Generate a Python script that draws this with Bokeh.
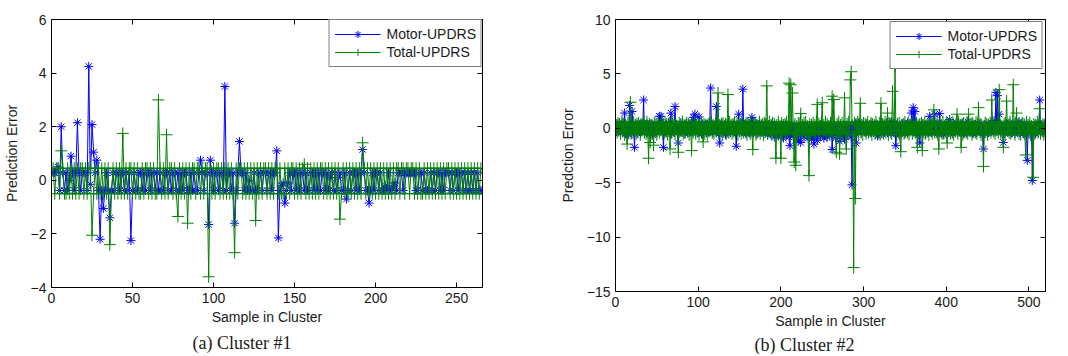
from bokeh.plotting import figure
from bokeh.models import Range1d, LinearAxis, FixedTicker, Legend, LegendItem, Title, Spacer
from bokeh.layouts import row, column
from bokeh.embed import file_html
from bokeh.resources import INLINE

# ---------------- data ----------------
motor1 = [
    .28, .28, .35, .5, -.38, 2.0, .28, -.38, .28, -.38, 0, .9, .28, -.38, .28, 2.15, .28, -.38, .28, .28,
    .28, -.38, 4.25, -.15, 2.08, 1.05, .28, .75, -.38, -2.2, -.38, -1.05, -.38, .28, -.38, -1.4, -.38, .28, -.38, .28,
    .28, -.38, .28, .28, -.38, .28, -.38, .28, -2.25, -.38, .28, -.38, -.38, .28, .28, -.38, .28, -.38, .28, .28,
    -.38, .28, .28, -.38, .28, -.38, .28, -.38, -.38, .28, .28, -.38, .28, -.38, .28, .28, -.38, .28, -.38, .28,
    -.38, .28, .28, -.38, -.38, .28, -.38, .28, -.38, -.38, .28, .75, .28, -.38, .28, .28, -1.65, .75, .28, -.38,
    .28, .28, -.38, .28, .28, -.38, 3.5, -.38, .28, .28, -.38, .28, -1.6, -.38, .28, 1.45, .28, .28, -.38, .28,
    -.38, 0, -.38, -.38, .28, -.38, -.38, .28, .28, -.38, .28, .28, -.38, .28, .28, -.38, .28, .28, 1.1, -2.15,
    -.38, -.2, -.1, -.85, -.38, -.1, .28, -.38, .28, .28, -.38, .28, -.38, .28, .28, -.38, .28, -.38, -.38, .28,
    .28, -.38, .28, -.38, .28, -.38, .28, .28, -.38, .28, -.38, .1, .28, -.38, .28, -.38, .1, .28, -.38, -.38,
    .28, -.7, -.38, .28, -.38, .28, .28, -.38, .28, -.38, .28, 1.15, .28, -.38, -.38, -.85, -.38, .28, -.38, .28,
    .28, -.38, .28, -.38, -.38, -.2, -.38, .28, -.38, -.38, -.2, -.1, -.38, .28, .28, .28, -.38, .28, .28, .28,
    .28, .28, .28, .28, -.38, -.38, .28, .28, -.38, .28, -.38, -.38, -.38, .28, -.38, .28, -.38, .28, .28, -.38,
    .28, -.38, .28, .28, .28, -.38, .28, -.38, .28, .28, -.38, .28, .28, -.38, .28, -.38, .28, -.38, .28, -.38,
    .28, -.38, .28, -.38, -.38,
]
total1 = [
    .45, -.5, .45, .45, -.5, 1.1, .45, -.5, -.5, .45, -.5, .45, -.5, .45, -.5, .45, -.5, .45, .45, -.5,
    .45, -.5, .45, .45, -2.05, -.5, .45, -.5, .45, -.5, .45, -.5, .45, -.5, .45, -2.4, -.5, .45, -.5, .45,
    -.5, .45, -.5, 1.75, -.5, .45, -.5, .45, .45, -.5, .45, -.5, .45, -.5, -.5, .45, -.5, .45, .45, -.5,
    .45, -.5, .45, -.5, -.5, 3.0, .45, -.5, .45, -.5, 1.7, -.5, .45, .45, -.5, .45, -.5, -1.35, .45, -.5,
    .45, -.5, .45, -1.6, .45, -.5, .45, .45, -.5, .45, .45, -.5, .45, -.5, .45, .45, -3.6, .45, -.5, .45,
    -.5, .45, .45, -.5, .45, -.5, .45, -.5, .45, -.5, .45, -.5, -2.7, .45, -.5, .45, .45, -.5, .45, -.5,
    .45, -.5, .45, -.5, .45, -1.5, .45, -.5, .45, -.5, .45, .45, -.5, .45, -.5, .45, -.5, .45, .45, -.5,
    .45, -.5, -.5, .45, -.5, .45, -.5, .45, .45, -.5, .45, -.5, .45, -.5, .45, .6, -.5, .45, -.5, .45,
    -.5, .45, -.5, .45, -.5, .45, .45, -.5, .45, -.5, .45, -.5, .45, -.5, .45, -.5, .45, -1.45, -.5, .45,
    -.5, .45, -.5, .45, -.5, .45, -.5, .45, -.5, .45, -.5, 1.4, .45, -.5, .45, -.5, .45, -.5, .45, -.5,
    .45, -.5, .45, -.5, .45, -.5, .45, -.5, .45, -.5, .45, -.5, .45, .45, -.5, .45, .45, -.5, .45, .45,
    -.5, .45, .45, -.5, .45, -.5, .45, -.5, -.5, .45, -.5, .45, -.5, .45, -.5, .45, -.5, .45, -.5, .45,
    -.5, .45, -.5, .45, .45, -.5, .45, -.5, .45, -.5, .45, -.5, .45, -.5, .45, -.5, .45, -.5, .45, -.5,
    .45, -.5, .45, -.5, .45,
]
motor2 = [
    -.3, .2, .4, -.2, .3, -.4, .1, .5, -.3, .2, 1.4, -.5, .3, -.2, .1, -.6, 2.1, .3, -.4, 1.55,
    .2, -.3, -1.75, .4, -.1, .3, -.5, .2, -.2, .4, -.3, .1, .3, 2.6, -.4, .2, -.3, .4, -.2, .1,
    -.5, .3, -.2, .4, -.6, .2, .1, -.3, .3, -.4, .2, -.1, 1.1, .3, 1.1, -.2, .4, -1.75, .2, -.3,
    .3, -.4, .1, .5, -.2, .3, 1.4, -.5, .2, -.3, .4, 2.0, -.2, .1, -.4, -1.35, .3, -.2, .4, -.3,
    .2, -.1, .3, -.5, .4, -.2, .1, .3, -.4, .2, -.3, .5, -.2, 1.0, .3, 1.3, -.4, .2, -.1, .3,
    1.05, -.3, .2, -.5, .4, -.2, .3, -.1, .2, -.4, .3, .1, -.3, .5, 3.7, -.2, .3, -.4, .2, -.1,
    .4, 2.0, -.3, .2, -.5, -1.35, .3, -.2, .4, -.3, .1, .3, -.6, .2, -.1, .4, -.3, .2, -.4, .3,
    -.2, .1, .4, -.3, .2, -1.65, .3, -.2, 1.3, -.4, .2, .5, -.3, 3.6, .1, -.2, .4, -.5, .3, -.1,
    .2, -.4, .3, .6, 1.0, -.3, .2, -.1, .4, -.5, .3, -.2, .1, .5, -.3, .2, -.4, .3, .1, -.2,
    .4, -.3, .2, -.6, .3, -.1, .2, -.5, .4, -.2, .1, -.8, .3, -.4, .2, -.3, -.7, .1, -.2, .3,
    -.5, .2, -.9, .1, -.3, .4, -.6, -.2, .3, -.8, -1.6, .2, -.4, .1, -.7, .3, -.5, -.2, .2, -.9,
    -1.15, -.3, .1, -1.3, -.6, .2, -.4, -.8, .3, -.2, -.5, .1, -.9, -.3, .2, -.6, -1.0, .1, -.4, -1.45,
    -.8, .2, -.3, -1.1, .1, -.5, .3, -.7, -.2, .2, -.6, -.9, .1, -.3, .2, -.8, -.4, .3, -.6, -.2,
    .1, -1.95, -.5, .2, -.3, -.9, .1, -.6, .3, -.4, -1.2, .2, -.7, -.3, .1, -.5, -1.0, .2, -.4, .3,
    -.6, .1, -.3, .2, -.8, -5.2, .3, -.2, .1, .4, -1.35, .2, -.3, .5, -.1, .3, -.4, .2, -.2, .3,
    .1, -.3, .4, -.2, .2, -.5, .3, -.1, .4, -.3, .2, -.4, .1, .3, -.2, .4, -.7, .2, -.3, .1,
    .3, -.5, .2, -.1, .4, -.3, .2, .5, -.4, .1, -.2, .3, -.5, .6, .2, -.3, .4, .1, -1.6, .3,
    -.4, .2, -.6, .3, -.2, .1, .4, -.3, .2, -.5, .3, -.1, .5, -.3, .2, .4, -.2, 1.4, .3, 1.9,
    -.3, 1.55, .2, -.4, .1, -.6, .3, -1.35, .2, -.2, .4, -.3, .1, .3, -.5, .2, -.1, .4, -.3, 1.1,
    .2, -.4, .3, -.1, .5, 1.3, -.3, .2, -.5, .4, -.2, 1.35, .3, -.4, .1, .2, -.6, .3, -.2, .4,
    -.1, .3, -.4, .8, .2, -.3, .1, -.5, .4, -.2, .3, -.1, .2, -.4, .5, -.3, .1, .3, -.2, .4,
    -.5, .2, -.1, .3, -.4, .6, .1, -.3, .2, -.2, .4, -.5, .3, .1, -.3, .2, -.4, .5, -.2, .3,
    .1, -.3, .2, -.6, -1.9, .3, -.2, .4, -.1, .2, -.4, .3, .1, -.3, .5, -.2, .2, .7, -.3, 3.3,
    .4, 3.0, -.2, 1.3, .3, -.4, .2, -.1, -1.3, .3, -.5, .2, .4, -.2, .1, -.3, .5, .2, -.4, .3,
    -.1, .2, -.5, .4, .1, -.3, .2, .6, -.4, .1, -.2, .3, -.5, .2, .4, -.3, -.6, -2.95, .2, -.1,
    .3, -.4, .2, -4.8, -.3, .2, .1, -.5, .3, -.2, .4, .1, 2.6, -.3, .2, -.1, .3, -.4, .2, .1,
]
total2 = [
    .3, -.4, .5, -.2, .4, -.5, .2, .6, -.3, .4, -.6, .3, -.2, -1.45, .5, -.3, .4, 2.4, -.5, .3,
    -.4, .6, -.2, .3, -.5, .4, -.3, .5, .1, -.6, .4, -.2, .3, .7, -.4, .2, -.5, .6, -.3, -2.75,
    .4, -1.3, .3, -.5, .2, -1.55, .5, -.3, .4, -.6, .2, .5, -.4, .3, -.2, .6, -.5, .3, -.4, .5,
    -.3, .4, -.6, .2, .5, -1.9, .3, -.4, .6, -.2, .4, -.5, .3, .2, -.6, -2.2, .5, -.3, .4, -.2,
    .6, -.5, .3, -.4, .2, .5, -.3, .4, -.6, .3, -.2, -2.05, .5, -.4, .3, .6, -.5, .2, -.3, .4,
    -.6, .3, -.2, .5, -.4, -1.25, .4, -.5, .3, .2, -.6, .4, -.3, .5, -.2, .6, -.4, .3, -.5, .2,
    .4, -.3, .6, 3.25, -.5, .3, -.2, .4, -.6, .5, -.3, .2, .4, -.5, .3, 3.1, -.4, .6, -.2, .3,
    -.5, .4, -.3, .6, -.4, .2, .5, -.6, .3, -.2, .4, -.5, .3, .6, -.4, .2, -.3, .5, -.6, .4,
    -.2, .3, -.5, .6, -.3, -1.95, .4, -.2, .5, -.6, .3, -.4, .2, .6, -.5, .3, -.2, .4, -.6, .5,
    -.3, .4, 3.9, -.5, .2, .6, -.4, .3, -.6, .5, -.2, .4, -.5, -2.75, .3, -.4, .6, -.3, .2, -2.75,
    .5, -.6, .3, -.2, .4, -.5, .6, -.3, .2, 4.15, -.4, 4.0, .3, 3.25, -.5, -3.1, .4, -3.4, .2, -.6,
    .5, -.3, .4, 1.35, -.6, .3, -.2, .5, -.4, .6, -.3, .2, -.5, -4.35, .4, -.6, .3, -.2, .5, -.4,
    .3, -.5, .6, 2.2, -.3, .4, -.6, .2, .5, 2.35, -.4, .3, -.2, .6, -.5, .4, -.3, .2, -.6, .5,
    -.3, 2.95, -.4, 2.65, .3, -.5, -2.2, .4, -.2, .6, -2.35, .3, -.4, .5, -.6, .2, 2.8, -.3, -1.9, .4,
    -.5, .6, -.3, 4.45, 5.2, .3, -.6, -12.8, .5, -6.45, .4, -.3, .6, -.5, .2, 2.3, -.4, .3, -.6, .5,
    -.2, .4, -.5, .3, .6, -.4, .2, -.3, .5, -.6, .4, -.2, .3, -.5, .6, -.3, .2, -.4, .5, -.6,
    2.3, -.3, .4, -.5, .2, .6, -.4, .3, 1.4, -.6, .5, -.2, .4, -.5, 3.4, .3, -.3, 5.65, .2, -.6,
    .4, -.3, .5, -.6, -2.15, .3, -.2, .4, -.5, .6, -.3, .2, -.4, .5, -.6, .3, -.2, .4, -.5, .6,
    -.3, .2, -.4, .5, -1.75, .3, -.6, .4, -.2, .5, -2.05, .3, -.4, .6, -.5, .2, -.3, .4, -.6, .5,
    -.2, .3, -.5, .6, 1.7, -.4, .2, -.3, .5, -.6, -1.9, .4, -.2, .3, -.5, .6, -.4, .2, -.3, .5,
    -1.35, .4, -.2, .6, -.5, .3, -.4, .5, -.6, .2, -.3, .4, 1.3, -.5, .6, -.2, .3, -1.75, .4, -.6,
    .5, -.3, .2, -.4, .6, -.5, 1.3, .3, -.2, .4, -.6, .5, -.3, .2, -.4, .6, -.5, .3, 1.9, -.2,
    .4, -.6, .3, -.5, -3.5, .2, .5, -.3, .4, -.6, .3, -.2, .5, -.4, 2.6, .6, -.3, .2, -.5, .4,
    -.2, .6, -.4, 3.55, .3, -.5, .2, -.3, -1.75, .4, -.6, .5, 2.5, -.2, .3, -.4, .6, -.5, .2, -.3,
    4.0, .3, -.6, .5, 1.4, -.2, .4, -.5, .3, -.6, .2, .5, -.3, .4, -.5, -2.45, .6, -.2, .3, -.4,
    .5, -.6, .2, -.3, -4.5, .4, -.5, .3, -.2, .6, -.4, .3, 1.8, -.5, .2, -.3, .4, -.6, .3, .2,
]

x1_ticks = [0, 50, 100, 150, 200, 250]
y1_ticks = [-4, -2, 0, 2, 4, 6]
x2_ticks = [0, 100, 200, 300, 400, 500]
y2_ticks = [-15, -10, -5, 0, 5, 10]
series_names = ["Motor-UPDRS", "Total-UPDRS"]
x_label = "Sample in Cluster"
y_labels = ["Prediction Error", "Predction Error"]
captions = ["(a) Cluster #1", "(b) Cluster #2"]

# ---------------- styling ----------------
BLUE = "#0000ff"
GREEN = "#008000"
SANS = "Liberation Sans"
SERIF = "Liberation Serif"
TXT = "#1a1a1a"


def style_axis(ax, ticks, show_labels):
    ax.ticker = FixedTicker(ticks=ticks)
    ax.major_tick_in = 5
    ax.major_tick_out = 0
    ax.minor_tick_line_color = None
    ax.axis_line_color = "black"
    ax.major_tick_line_color = "black"
    ax.major_label_text_font = SANS
    if show_labels:
        ax.major_label_text_font_size = "14px"
        ax.major_label_standoff = 5
        ax.major_label_text_color = TXT
    else:
        ax.major_label_text_font_size = "1px"
        ax.major_label_standoff = 0
        ax.major_label_text_color = None
    ax.axis_label_text_font = SANS
    ax.axis_label_text_font_size = "14px"
    ax.axis_label_text_font_style = "normal"
    ax.axis_label_text_color = TXT
    ax.axis_label_standoff = 8


def make(motor, total, xmax, yr, xt, yt, ylab, cap, borders, fw, fh, cap_off, cap_standoff, lmargin):
    left, top, right, bottom = borders
    p = figure(frame_width=fw, frame_height=fh,
               x_range=Range1d(0, xmax), y_range=Range1d(*yr),
               output_backend="svg", toolbar_location=None,
               min_border_left=left, min_border_top=top,
               min_border_right=right, min_border_bottom=bottom)
    p.grid.visible = False
    p.outline_line_color = "black"
    p.outline_line_width = 1
    p.background_fill_color = "white"
    p.border_fill_color = "white"

    style_axis(p.xaxis[0], xt, True)
    style_axis(p.yaxis[0], yt, True)
    p.xaxis[0].axis_label = x_label
    p.yaxis[0].axis_label = ylab
    p.xaxis[0].axis_label_standoff = 3

    top_ax = LinearAxis()
    style_axis(top_ax, xt, False)
    p.add_layout(top_ax, "above")
    right_ax = LinearAxis()
    style_axis(right_ax, yt, False)
    p.add_layout(right_ax, "right")

    xs = list(range(1, len(motor) + 1))
    xs2 = list(range(1, len(total) + 1))
    lm = p.line(xs, motor, line_color=BLUE, line_width=1)
    sm = p.scatter(xs, motor, marker="asterisk", size=9, line_color=BLUE, line_width=1)
    lt = p.line(xs2, total, line_color=GREEN, line_width=1)
    st = p.scatter(xs2, total, marker="cross", size=12, line_color=GREEN, line_width=1)

    legend = Legend(items=[LegendItem(label=series_names[0], renderers=[lm, sm]),
                           LegendItem(label=series_names[1], renderers=[lt, st])],
                    location="top_right", margin=lmargin, padding=5, spacing=0,
                    glyph_width=46, glyph_height=18, label_height=18,
                    label_standoff=6,
                    label_text_font=SANS, label_text_font_size="14px",
                    label_text_color=TXT,
                    border_line_color="black", border_line_width=1,
                    background_fill_color="white", background_fill_alpha=1)
    p.add_layout(legend)

    title = Title(text=cap, align="left", offset=cap_off, standoff=cap_standoff,
                  text_font=SERIF, text_font_size="18px", text_font_style="normal",
                  text_color=TXT)
    p.add_layout(title, "below")
    return p


p1 = make(motor1, total1, 266, (-4, 6), x1_ticks, y1_ticks, y_labels[0], captions[0],
          (44, 12, 51, 30), 431, 268, 141, 6, 0)
p2 = make(motor2, total2, 520, (-15, 10), x2_ticks, y2_ticks, y_labels[1], captions[1],
          (82, 11, 14, 30), 430, 272, 139, 2, 2)

layout = column(Spacer(height=7), row(p1, p2))
open("out.html", "w").write(file_html(layout, INLINE))
